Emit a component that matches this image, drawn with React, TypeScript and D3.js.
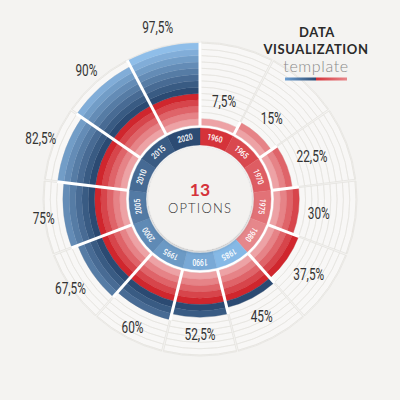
import * as d3 from 'd3';

// segments, clockwise from the top
const years = ['1960', '1965', '1970', '1975', '1980', '1985', '1990', '1995', '2000', '2005', '2010', '2015', '2020'];
const values = [7.5, 15, 22.5, 30, 37.5, 45, 52.5, 60, 67.5, 75, 82.5, 90, 97.5];
const labels = ['7,5%', '15%', '22,5%', '30%', '37,5%', '45%', '52,5%', '60%', '67,5%', '75%', '82,5%', '90%', '97,5%'];
const stripeStep = 7.5; // each stripe of a bar is worth 7.5%
const maxValue = 97.5;
const redStripes = 5; // first 5 stripes red, the rest blue

const width = 400;
const height = 400;
const cx = 200;
const cy = 199;

function App() {
	const angle = d3.scaleBand<string>().domain(years).range([0, 2 * Math.PI]);
	const radius = d3.scaleLinear().domain([0, maxValue]).range([74, 156]);
	const levels = d3.range(1, maxValue / stripeStep + 1);

	const redColor = d3.scaleLinear<string>().domain([1, redStripes]).range(['#eda2a5', '#d0262d']);
	const blueColor = d3
		.scaleLinear<string>()
		.domain([redStripes + 1, levels.length])
		.range(['#2b4a72', '#8fbee9']);
	const stripeColor = (k: number) => (k <= redStripes ? redColor(k) : blueColor(k));

	const ringRed = d3.scaleLinear<string>().domain([0, redStripes - 1]).range(['#d5333a', '#e6878b']);
	const ringBlue = d3
		.scaleLinear<string>()
		.domain([redStripes, years.length - 1])
		.range(['#86b9e6', '#2c4b73']);
	const ringColor = (i: number) => (i < redStripes ? ringRed(i) : ringBlue(i));

	const arc = d3.arc<{ a0: number; a1: number; r0: number; r1: number }>()
		.startAngle((d) => d.a0)
		.endAngle((d) => d.a1)
		.innerRadius((d) => d.r0)
		.outerRadius((d) => d.r1);

	const bw = angle.bandwidth();
	const polar = (r: number, a: number): [number, number] => [r * Math.sin(a), -r * Math.cos(a)];
	const outer = values.map((v) => radius(v));

	return (
		<svg width={width} height={height} style={{ position: 'fixed', left: 0, top: 0, background: '#f4f3f1' }}>
			<defs>
				<filter id='shadow' x='-30%' y='-30%' width='160%' height='160%'>
					<feDropShadow dx='0' dy='1' stdDeviation='2.2' floodColor='#000' floodOpacity='0.35' />
				</filter>
				<linearGradient id='tplBar' x1='0' x2='1' y1='0' y2='0'>
					<stop offset='0' stopColor='#6d9fd2' />
					<stop offset='0.5' stopColor='#2c4b73' />
					<stop offset='0.5' stopColor='#d5333a' />
					<stop offset='1' stopColor='#e8878b' />
				</linearGradient>
			</defs>
			<rect width={width} height={height} fill='#f4f3f1' />

			<g transform={`translate(${cx},${cy})`}>
				{/* grid behind the bars */}
				{years.map((y) => {
					const a0 = angle(y)!;
					return (
						<g key={'g' + y}>
							<path
								d={arc({ a0: a0 + 0.006, a1: a0 + bw - 0.006, r0: radius(0), r1: radius(maxValue) + 1 })!}
								fill='#f8f7f6'
								stroke='#e3e1dd'
								strokeWidth={0.7}
							/>
							{levels.map((k) => (
								<path
									key={k}
									d={arc({ a0: a0 + 0.006, a1: a0 + bw - 0.006, r0: radius(k * stripeStep), r1: radius(k * stripeStep) })!}
									fill='none'
									stroke='#e4e2de'
									strokeWidth={0.6}
								/>
							))}
						</g>
					);
				})}

				<circle r={73.5} fill='#ffffff' />

				{/* striped bars */}
				{years.map((y, i) => {
					const a0 = angle(y)!;
					return (
						<g key={'b' + y}>
							{levels
								.filter((k) => k * stripeStep <= values[i])
								.map((k) => (
									<path
										key={k}
										d={arc({ a0, a1: a0 + bw, r0: radius((k - 1) * stripeStep), r1: radius(k * stripeStep) })!}
										fill={stripeColor(k)}
										stroke={stripeColor(k)}
										strokeWidth={0.3}
									/>
								))}
						</g>
					);
				})}

				{/* white separators between bars */}
				{years.map((y, i) => {
					const a = angle(y)!;
					const rEnd = Math.max(outer[i], outer[(i + years.length - 1) % years.length]) + 0.5;
					const [x1, y1] = polar(71, a);
					const [x2, y2] = polar(rEnd, a);
					return <line key={'s' + y} x1={x1} y1={y1} x2={x2} y2={y2} stroke='#ffffff' strokeWidth={3} />;
				})}

				{/* year ring */}
				{years.map((y, i) => {
					const a0 = angle(y)!;
					const mid = a0 + bw / 2;
					const [tx, ty] = polar(62.5, mid);
					return (
						<g key={'y' + y}>
							<path d={arc({ a0, a1: a0 + bw, r0: 54, r1: 71 })!} fill={ringColor(i)} stroke={ringColor(i)} strokeWidth={0.4} />
							<text
								transform={`translate(${tx},${ty}) rotate(${(mid * 180) / Math.PI}) scale(0.8,1)`}
								textAnchor='middle'
								dominantBaseline='central'
								fontFamily='Roboto, sans-serif'
								fontWeight={500}
								fontSize={8.5}
								fill='#ffffff'
							>
								{y}
							</text>
						</g>
					);
				})}

				{/* value labels */}
				{years.map((y, i) => {
					const mid = angle(y)! + bw / 2;
					const hw = labels[i].length * 2.9;
					const r = outer[i] + 11 + Math.abs(Math.sin(mid)) * hw + Math.abs(Math.cos(mid)) * 6.5;
					const [tx, ty] = polar(r, mid);
					return (
						<text
							key={'l' + y}
							transform={`translate(${tx},${ty}) scale(0.74,1)`}
							textAnchor='middle'
							dominantBaseline='central'
							fontFamily='Roboto, sans-serif'
							fontSize={16}
							fill='#333333'
						>
							{labels[i]}
						</text>
					);
				})}

				{/* center */}
				<circle r={51.5} fill='#f3f2f0' filter='url(#shadow)' />
				<text y={-3.5} textAnchor='middle' fontFamily='Lato, sans-serif' fontWeight={700} fontSize={17.5} fill='#d5333a'>
					13
				</text>
				<text y={14} textAnchor='middle' fontFamily='Lato, sans-serif' fontWeight={300} fontSize={13} letterSpacing={1.2} fill='#333333'>
					OPTIONS
				</text>
			</g>

			{/* title */}
			<g fontFamily='Lato, sans-serif' textAnchor='middle'>
				<text x={317} y={37} fontWeight={700} fontSize={13} letterSpacing={0.6} fill='#2a2a2a'>
					DATA
				</text>
				<text x={316} y={54} fontWeight={700} fontSize={13} letterSpacing={0.6} fill='#2a2a2a'>
					VISUALIZATION
				</text>
				<text x={316} y={72} fontWeight={300} fontSize={16} letterSpacing={0.6} fill='#8a8a8a'>
					template
				</text>
				<rect x={285} y={77.5} width={62} height={3} fill='url(#tplBar)' />
			</g>
		</svg>
	);
}

export default App;
